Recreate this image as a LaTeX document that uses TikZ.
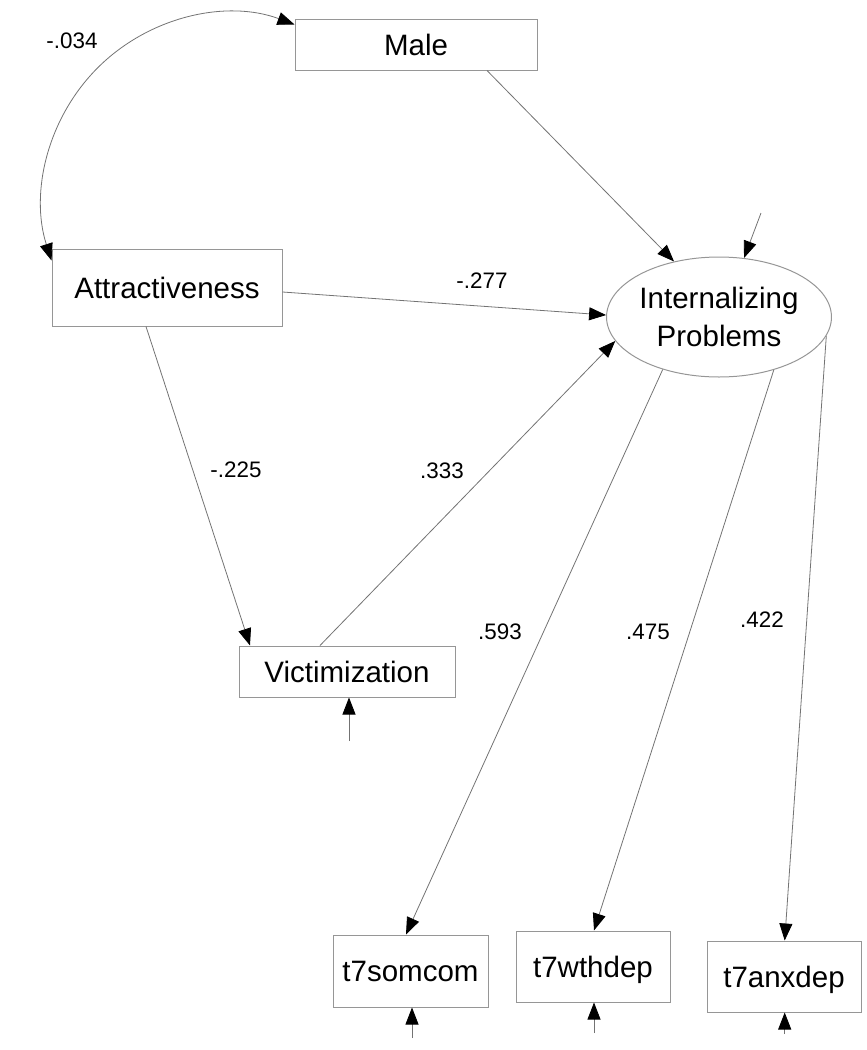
\documentclass[tikz,border=0pt]{standalone}
\usepackage{fontspec}
\setmainfont{Liberation Sans}
\usetikzlibrary{arrows.meta,shapes.geometric}
\definecolor{boxgray}{RGB}{150,150,150}
\definecolor{linegray}{RGB}{115,115,115}
\begin{document}
\begin{tikzpicture}[x=1pt,y=-1pt,
  box/.style={draw=boxgray, line width=1pt, rectangle, inner sep=0pt, text depth=0pt,
    font=\fontsize{29.5}{37.7}\selectfont},
  lat/.style={draw=boxgray, line width=1pt, ellipse, inner sep=0pt, minimum width=192pt,
    minimum height=120pt, align=center, font=\fontsize{29.5}{37.7}\selectfont},
  conn/.style={draw=linegray, line width=0.8pt, -{Triangle[length=17pt,width=13pt,color=black]}},
  biconn/.style={draw=linegray, line width=0.8pt, {Triangle[length=17pt,width=13pt,color=black]}-{Triangle[length=17pt,width=13pt,color=black]}},
  coef/.style={inner sep=0pt, font=\fontsize{22.4}{26}\selectfont}
]
\useasboundingbox (0,0) rectangle (867,1050);

% nodes
\node[box, minimum width=242pt, minimum height=51pt] (male) at (416,44.5) {Male};
\node[box, minimum width=230pt, minimum height=77pt] (attr) at (167,287.5) {Attractiveness};
\node[lat] (ip) at (719,317) {Internalizing\\Problems};
\node[box, minimum width=216pt, minimum height=51pt] (vict) at (347,671.5) {Victimization};
\node[box, minimum width=155pt, minimum height=72pt] (som) at (410.5,971) {t7somcom};
\node[box, minimum width=154pt, minimum height=71pt] (wth) at (593,966.5) {t7wthdep};
\node[box, minimum width=154pt, minimum height=71pt] (anx) at (784,976.5) {t7anxdep};

% coefficient labels
\node[coef] (l1) at (72,41) {-.034};
\node[coef] (l2) at (482,281) {-.277};
\node[coef] (l3) at (236,470) {-.225};
\node[coef] (l4) at (442,471) {.333};
\node[coef] (l5) at (500,632) {.593};
\node[coef] (l6) at (648,632) {.475};
\node[coef] (l7) at (762,620) {.422};

% covariance arc
\draw[biconn] ([yshift=-12pt]attr.north west) .. controls (29.7,192.5) and (47.5,116.9) .. (99.2,66.3)
   .. controls (150.9,15.8) and (227.1,-0.5) .. ([yshift=20pt]male.west);

% paths
\draw[conn] ([xshift=71pt]male.south) -- (ip.129.7);
\draw[conn] ([yshift=-4.5pt]attr.east) -- (ip.179.4);
\draw[conn] ([xshift=-21pt]attr.south) -- ([xshift=-97pt]vict.north);
\draw[conn] ([xshift=-27pt]vict.north) -- (ip.193.7);
\draw[conn] (ip.223.4) -- ([xshift=-4.5pt]som.north);
\draw[conn] (ip.316.6) -- ([xshift=1pt]wth.north);
\draw[conn] (ip.350.8) -- ([xshift=0.7pt]anx.north);

% error terms
\coordinate (eip) at (761,213);
\coordinate (ev) at (349,741);
\coordinate (es) at (412,1038);
\coordinate (ew) at (594,1033);
\coordinate (ea) at (784.7,1034);
\draw[conn] (eip) -- (ip.67.2);
\draw[conn] (ev) -- ([xshift=2pt]vict.south);
\draw[conn] (es) -- ([xshift=1.5pt]som.south);
\draw[conn] (ew) -- ([xshift=1pt]wth.south);
\draw[conn] (ea) -- ([xshift=0.7pt]anx.south);
\end{tikzpicture}
\end{document}
